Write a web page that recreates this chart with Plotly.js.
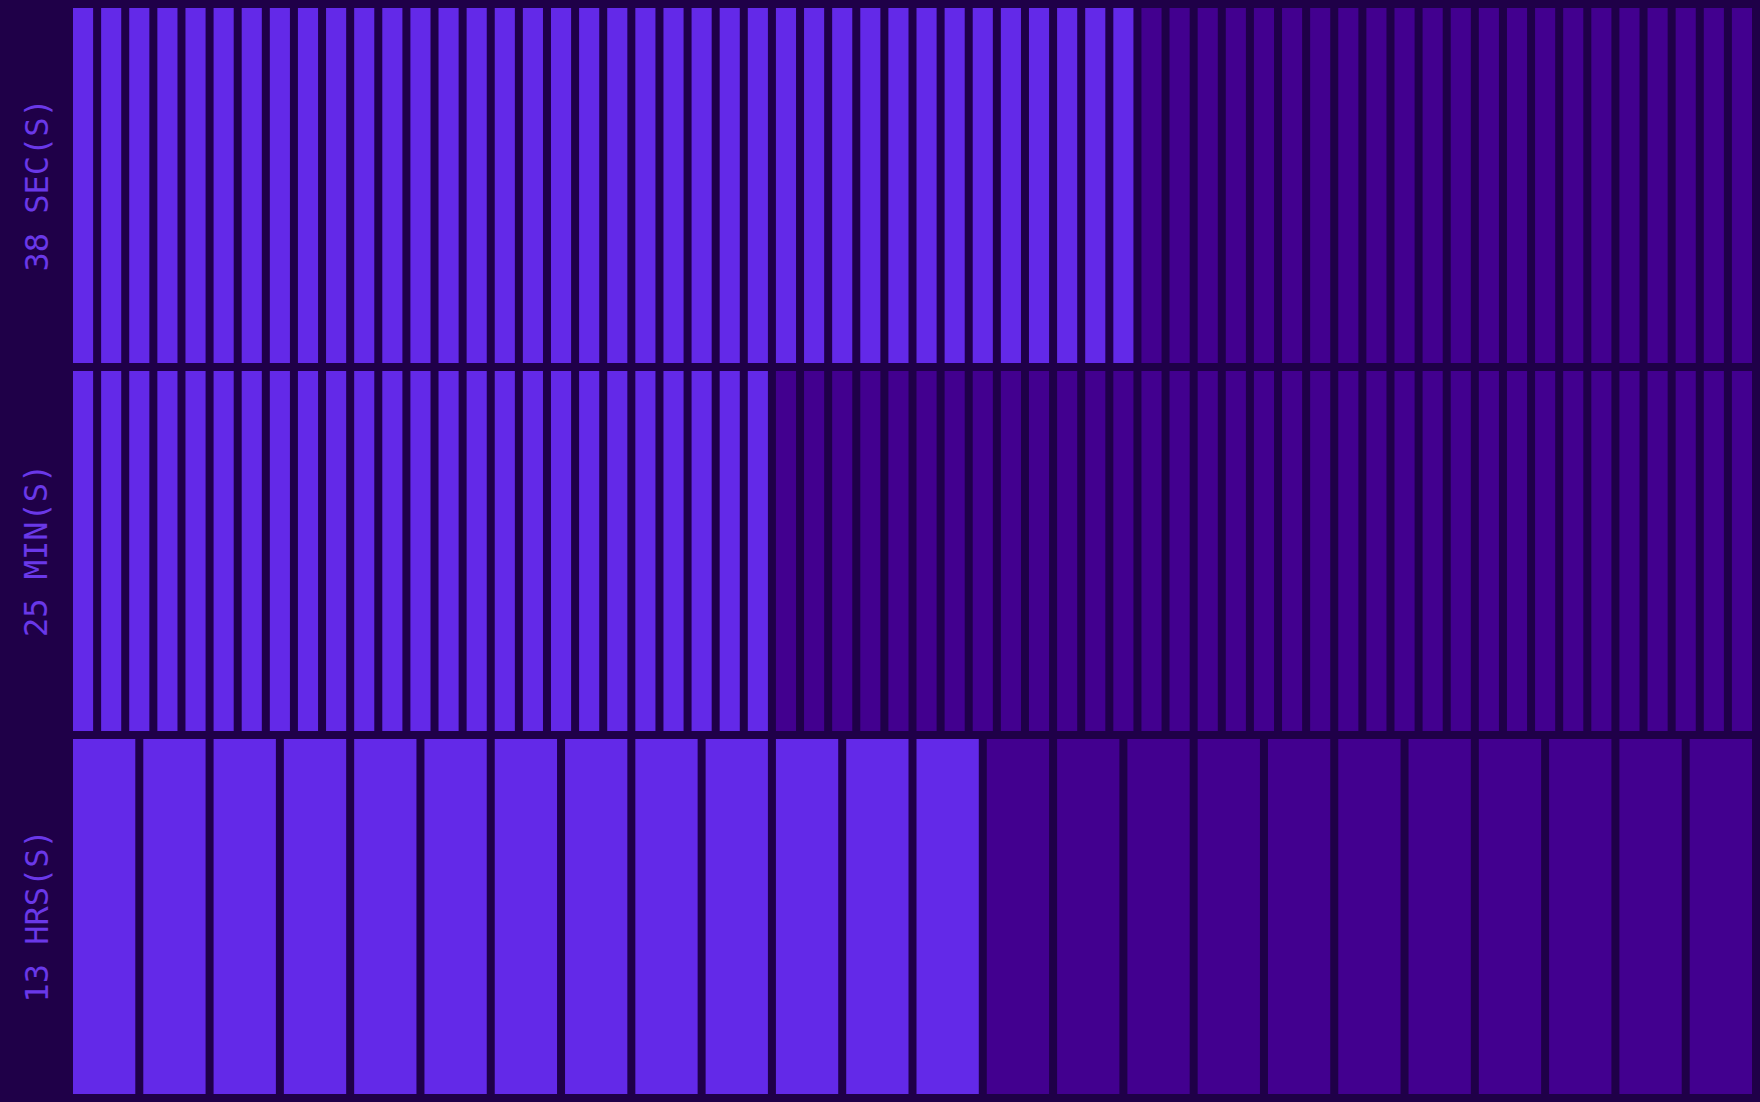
<!DOCTYPE html>
<html>
<head>
<meta charset="utf-8">
<script src="https://cdn.plot.ly/plotly-3.0.1.min.js"></script>
<style>
  html, body { margin: 0; padding: 0; background: #1f0048; }
  #chart { width: 1760px; height: 1102px; }
</style>
</head>
<body>
<div id="chart"></div>
<script>
// ---- data ----
const rowUnits = ['SEC(S)', 'MIN(S)', 'HRS(S)'];
const rowTotals = [60, 60, 24];
const rowValues = [38, 25, 13];

// ---- style ----
const BG = '#1f0048';
const ON = '#6329e8';
const OFF = '#42008f';
const TEXT = '#6a38e8';
const W = 1760, H = 1102;
const M = { l: 73, r: 8, t: 8, b: 8 };
const GAP = 8;
const plotW = W - M.l - M.r;
const plotH = H - M.t - M.b;

// row pixel bounds (top, bottom) measured from plot top
const rowPx = [[0, 355], [363, 723], [731, 1086]];

const traces = [];
const layout = {
  width: W, height: H,
  margin: M,
  paper_bgcolor: BG,
  plot_bgcolor: BG,
  showlegend: false,
  hovermode: false,
  annotations: []
};

rowTotals.forEach((n, r) => {
  const idx = r + 1;
  const xa = idx === 1 ? 'x' : 'x' + idx;
  const ya = idx === 1 ? 'y' : 'y' + idx;
  const pitch = (plotW + GAP) / n;
  const g = GAP / pitch;
  const xs = [], ys = [], cols = [];
  for (let i = 0; i < n; i++) {
    xs.push(i);
    ys.push(1);
    cols.push(i < rowValues[r] ? ON : OFF);
  }
  traces.push({
    type: 'bar', x: xs, y: ys, xaxis: xa, yaxis: ya,
    width: 1 - g,
    marker: { color: cols, line: { width: 0 } },
    hoverinfo: 'skip'
  });
  const d0 = (plotH - rowPx[r][1]) / plotH;
  const d1 = (plotH - rowPx[r][0]) / plotH;
  const xKey = idx === 1 ? 'xaxis' : 'xaxis' + idx;
  const yKey = idx === 1 ? 'yaxis' : 'yaxis' + idx;
  layout[xKey] = {
    domain: [0, 1], anchor: ya,
    range: [-0.5 + g / 2, n - 0.5 - g / 2],
    showgrid: false, zeroline: false, showticklabels: false, ticks: '',
    showline: false, fixedrange: true
  };
  layout[yKey] = {
    domain: [d0, d1], anchor: xa,
    range: [0, 1],
    showgrid: false, zeroline: false, showticklabels: false, ticks: '',
    showline: false, fixedrange: true
  };
  layout.annotations.push({
    text: rowValues[r] + ' ' + rowUnits[r],
    xref: 'paper', yref: ya + ' domain',
    x: (36 - M.l) / plotW, y: 0.5,
    xanchor: 'center', yanchor: 'middle',
    textangle: -90, showarrow: false,
    font: { family: 'DejaVu Sans Mono, Liberation Mono, monospace', size: 32, color: TEXT }
  });
});

Plotly.newPlot('chart', traces, layout, { displayModeBar: false, staticPlot: true });
</script>
</body>
</html>
